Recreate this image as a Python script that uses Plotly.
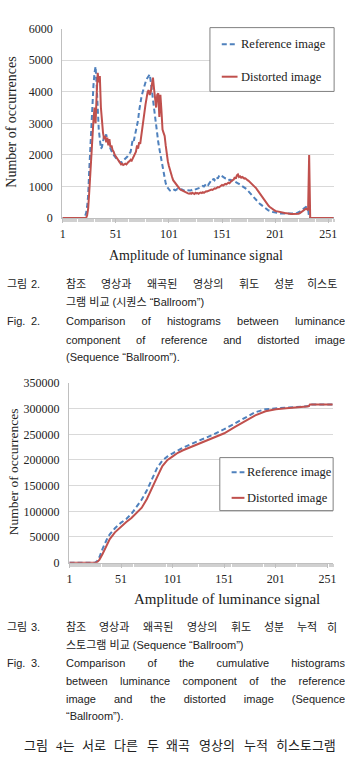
import plotly.graph_objects as go

# ---------------- data ----------------
x_vals = list(range(1, 257))

hist_ref = ([0] * 20 +
    [0, 50, 150, 350, 700, 1500, 2200, 3000, 3700, 4200,
     4600, 4800, 4200, 3400, 2800, 2500, 2200, 2250, 2400, 2600,
     2550, 2650, 2500, 2350, 2300, 2200, 2100, 2050, 2000, 1950,
     1900, 1850, 1820, 1800, 1780, 1750, 1780, 1800, 1850, 1880,
     1900, 1950, 2000, 2050, 2100, 2300, 2500, 2450, 2600, 2800,
     2900, 3100, 3400, 3700, 3800, 3950, 4100, 4200, 4300, 4400,
     4450, 4500, 4550, 4300, 4000, 3800, 3500, 3200, 2900, 2600,
     2400, 2200, 2000, 1800, 1600, 1400, 1250, 1100, 1000, 950,
     900, 870, 850, 860, 880, 900, 880, 900, 920, 900,
     880, 900, 910, 890, 870, 880, 900, 880, 870, 880,
     870, 880, 900, 880, 890, 900, 920, 940, 950, 960,
     980, 1000, 1020, 1000, 1050, 1080, 1100, 1050, 1100, 1150,
     1200, 1180, 1250, 1200, 1280, 1300, 1250, 1320, 1300, 1350,
     1330, 1300, 1280, 1260, 1250, 1220, 1230, 1200, 1210, 1180,
     1170, 1150, 1160, 1130, 1120, 1100, 1080, 1060, 1040, 1020,
     1000, 980, 950, 920, 880, 840, 800, 760, 720, 690,
     660, 620, 580, 540, 500, 470, 440, 410, 380, 360,
     330, 300, 280, 260, 240, 220, 210, 200, 190, 180,
     165, 160, 155, 150, 150, 145, 145, 140, 140, 135,
     135, 130, 130, 130, 125, 125, 130, 130, 135, 140,
     150, 160, 180, 200, 220, 250, 280, 300, 320, 350,
     330, 300] +
    [0] * 24)

hist_dist = ([0] * 23 +
    [80, 300, 800, 1500, 2200, 2700, 3100,
     3500, 3000, 3900, 4600, 4300, 4500, 3500, 3000, 2700, 2500,
     2600, 2400, 2550, 2300, 2500, 2250, 2300, 2150, 2100, 2000,
     1950, 1900, 1850, 1800, 1750, 1700, 1720, 1680, 1700, 1720,
     1700, 1750, 1780, 1800, 1850, 1820, 1900, 1950, 2000, 2100,
     2300, 2200, 2400, 2350, 2600, 2900, 3100, 3300, 3600, 3800,
     4000, 4050, 3900, 4000, 4200, 4450, 4100, 3700, 3500, 3900,
     3950, 3200, 3900, 3400, 2800, 2700, 2600, 2300, 2000, 1800,
     1650, 1500, 1400, 1300, 1200, 1150, 1100, 1050, 1000, 950,
     930, 900, 880, 870, 850, 830, 800, 790, 780, 770,
     790, 770, 800, 780, 760, 800, 780, 790, 770, 800,
     810, 790, 820, 800, 830, 850, 840, 860, 870, 880,
     900, 890, 920, 940, 930, 960, 980, 970, 1000, 1020,
     1050, 1030, 1060, 1080, 1070, 1100, 1120, 1100, 1150, 1180,
     1200, 1220, 1300, 1250, 1350, 1380, 1300, 1320, 1280, 1300,
     1280, 1250, 1260, 1220, 1200, 1180, 1150, 1120, 1080, 1050,
     1000, 980, 950, 900, 850, 800, 750, 700, 650, 600,
     550, 500, 450, 420, 380, 350, 320, 290, 270, 250,
     230, 220, 210, 200, 190, 180, 170, 170, 160, 160,
     150, 150, 140, 140, 140, 130, 130, 130, 120, 130,
     130, 120, 140, 150, 180, 200, 230, 260, 280, 300,
     280, 250, 2000] +
    [0] * 23)

cum_x = [1, 26, 28, 30, 33, 36, 38, 40, 45, 51, 56, 61, 66, 71, 76, 81, 86, 91, 96, 101,
         106, 111, 121, 131, 141, 151, 161, 171, 181, 191, 201, 211, 221, 231, 233, 234, 256]
cum_ref = [0, 0, 4000, 11000, 27000, 41000, 49000, 55000, 67000, 78000,
           85000, 95000, 108000, 123000, 141000, 162000, 185000, 199000, 207000, 213000,
           219000, 224000, 233000, 241000, 250000, 260000, 271000, 283000, 293000, 299000,
           301000, 302000, 303000, 304500, 305000, 308000, 308000]
cum_dist = [0, 0, 1500, 6000, 17000, 31000, 40000, 46000, 59000, 71000,
            79000, 87000, 97000, 107000, 124000, 144000, 167000, 188000, 200000, 207000,
            214000, 219000, 227000, 235000, 243000, 252000, 264000, 276000, 287000, 295000,
            299000, 301000, 302000, 304000, 305000, 308000, 308000]

x_ticks = [1, 51, 101, 151, 201, 251]
hist_y_ticks = [0, 1000, 2000, 3000, 4000, 5000, 6000]
cum_y_ticks = [0, 50000, 100000, 150000, 200000, 250000, 300000, 350000]

series_names = ["Reference image", "Distorted image"]

# ---------------- styling helpers ----------------
W, H = 345, 765
BLUE = "#4F81BD"
RED = "#C0504D"
GRID = "#D9D9D9"
AXC = "#BFBFBF"
TXT = "#222222"
SERIF = "Liberation Serif, Times New Roman, serif"
CAP = "Liberation Sans, Noto Sans CJK KR, sans-serif"
BODY = "Liberation Serif, Noto Sans CJK KR, serif"


def px(x):
    return x / W


def py(y):
    return 1 - y / H


# approximate advance widths (Arial / Times metrics, em/1000)
ARIAL = {' ': 278, '(': 333, ')': 333, '.': 278, '\u201c': 333, '\u201d': 333, ',': 278,
         'a': 556, 'b': 556, 'c': 500, 'd': 556, 'e': 556, 'f': 278, 'g': 556, 'h': 556,
         'i': 222, 'j': 222, 'k': 500, 'l': 222, 'm': 833, 'n': 556, 'o': 556, 'p': 556,
         'q': 556, 'r': 333, 's': 500, 't': 278, 'u': 556, 'v': 500, 'w': 722, 'x': 500,
         'y': 500, 'z': 500, 'B': 667, 'C': 722, 'F': 611, 'S': 667}
TIMES = {' ': 250, '4': 500}


def text_width(s, size, table):
    w = 0
    for ch in s:
        if ch in table:
            w += table[ch]
        elif ord(ch) >= 0x1100:
            w += 1000
        else:
            w += 556
    return w * size / 1000


fig = go.Figure()

line_ref = dict(color=BLUE, width=2, dash="5px,3px")
line_dist = dict(color=RED, width=2)

fig.add_trace(go.Scatter(x=x_vals, y=hist_ref, mode="lines", line=line_ref,
                         name=series_names[0], xaxis="x", yaxis="y", showlegend=False))
fig.add_trace(go.Scatter(x=x_vals, y=hist_dist, mode="lines", line=line_dist,
                         name=series_names[1], xaxis="x", yaxis="y", showlegend=False))
fig.add_trace(go.Scatter(x=cum_x, y=cum_ref, mode="lines", line=line_ref,
                         name=series_names[0], xaxis="x2", yaxis="y2", showlegend=False))
fig.add_trace(go.Scatter(x=cum_x, y=cum_dist, mode="lines", line=line_dist,
                         name=series_names[1], xaxis="x2", yaxis="y2", showlegend=False))


def xaxis_cfg(domain, anchor):
    return dict(domain=domain, anchor=anchor, range=[0.5, 256.5], tickmode="array",
                tickvals=x_ticks, ticktext=[str(v) for v in x_ticks],
                ticks="outside", ticklen=4, tickcolor=AXC, tickwidth=1,
                minor=dict(ticks="outside", tickmode="linear", tick0=0.5, dtick=1,
                           ticklen=3, tickcolor="#D0D0D0", showgrid=False),
                showgrid=False, zeroline=False, showline=True, linecolor=AXC,
                tickfont=dict(family=SERIF, size=12, color=TXT), ticklabelstandoff=1,
                fixedrange=True)


def yaxis_cfg(domain, anchor, rng, ticks, size):
    return dict(domain=domain, anchor=anchor, range=rng, tickmode="array",
                tickvals=ticks, ticktext=[str(v) for v in ticks],
                showgrid=True, gridcolor=GRID, gridwidth=1, zeroline=False,
                showline=True, linecolor=AXC, ticks="",
                tickfont=dict(family=SERIF, size=size, color=TXT), ticklabelstandoff=6,
                fixedrange=True)


fig.update_layout(
    width=W, height=H, margin=dict(l=0, r=0, t=0, b=0, pad=0),
    paper_bgcolor="white", plot_bgcolor="white", showlegend=False,
    xaxis=xaxis_cfg([px(61), px(337)], "y"),
    yaxis=yaxis_cfg([py(215), py(22)], "x", [0, 6000], hist_y_ticks, 12),
    xaxis2=xaxis_cfg([px(68), px(336)], "y2"),
    yaxis2=yaxis_cfg([py(566), py(383)], "x2", [0, 350000], cum_y_ticks, 12),
)

shapes = []
annotations = []


def add_text(x, y, text, size, family, anchor="left", angle=0):
    annotations.append(dict(x=px(x), y=py(y), xref="paper", yref="paper", text=text,
                            showarrow=False, xanchor=anchor, yanchor="middle",
                            textangle=angle, font=dict(family=family, size=size, color=TXT)))


def add_legend(box, y_rows, x_line, x_text, size):
    x0, x1, y0, y1 = box
    shapes.append(dict(type="rect", xref="paper", yref="paper", x0=px(x0), x1=px(x1),
                       y0=py(y1), y1=py(y0), line=dict(color="#808080", width=1),
                       fillcolor="white", layer="above"))
    styles = [line_ref, line_dist]
    for yy, st, name in zip(y_rows, styles, series_names):
        shapes.append(dict(type="line", xref="paper", yref="paper", x0=px(x_line[0]),
                           x1=px(x_line[1]), y0=py(yy), y1=py(yy),
                           line=dict(color=st["color"], width=2, dash=st.get("dash", "solid")),
                           layer="above"))
        add_text(x_text, yy, name, size, SERIF)


# legends
add_legend((211, 337, 21, 86), (38, 71), (223, 239), 240, 12.5)
add_legend((221, 336, 459, 513), (474, 500), (233, 246), 246.5, 12.5)

# axis titles
add_text(10, 117, "Number of occurrences", 14, SERIF, "center", -90)
add_text(197, 253, "Amplitude of luminance signal", 14, SERIF, "center")
add_text(12, 473, "Number of occurrences", 13.5, SERIF, "center", -90)
add_text(228, 603, "Amplitude of luminance signal", 15, SERIF, "center")


def justified(x0, x1, y, text, size, family, table):
    """English lines: stretch spaces with CSS word-spacing."""
    nat = text_width(text, size, table)
    n = text.count(' ')
    ws = (x1 - x0 - nat) / n if n else 0
    add_text(x0, y, '<span style="word-spacing:%.2fpx">%s</span>' % (ws, text), size, family)


def justified_words(x0, x1, y, text, size, family, table):
    """Korean lines: place each word; first left-anchored, last right-anchored."""
    words = text.split(' ')
    widths = [text_width(w, size, table) for w in words]
    gap = (x1 - x0 - sum(widths)) / (len(words) - 1)
    pos = x0
    for i, (w, wd) in enumerate(zip(words, widths)):
        if i == len(words) - 1:
            add_text(x1, y, w, size, family, "right")
        else:
            add_text(pos, y, w, size, family, "left")
        pos += wd + gap


CS = 11
# Fig. 2 caption
add_text(3, 282, "그림", CS, CAP)
add_text(27, 282, "2.", CS, CAP)
justified_words(63, 342, 282, "참조 영상과 왜곡된 영상의 휘도 성분 히스토", CS, CAP, ARIAL)
add_text(63, 301, "그램 비교 (시퀀스 \u201cBallroom\u201d)", CS, CAP)
add_text(3, 320, "Fig.", CS, CAP)
add_text(27, 320, "2.", CS, CAP)
justified(63, 342, 320, "Comparison of histograms between luminance", CS, CAP, ARIAL)
justified(63, 342, 339, "component of reference and distorted image", CS, CAP, ARIAL)
add_text(63, 357, "(Sequence \u201cBallroom\u201d).", CS, CAP)

# Fig. 3 caption
add_text(3, 632, "그림", CS, CAP)
add_text(27, 632, "3.", CS, CAP)
justified_words(63, 342, 632, "참조 영상과 왜곡된 영상의 휘도 성분 누적 히", CS, CAP, ARIAL)
add_text(63, 650, "스토그램 비교 (Sequence \u201cBallroom\u201d)", CS, CAP)
add_text(3, 668, "Fig.", CS, CAP)
add_text(27, 668, "3.", CS, CAP)
justified(63, 342, 668, "Comparison of the cumulative histograms", CS, CAP, ARIAL)
justified(63, 342, 687, "between luminance component of the reference", CS, CAP, ARIAL)
justified(63, 342, 705, "image and the distorted image (Sequence", CS, CAP, ARIAL)
add_text(63, 722, "\u201cBallroom\u201d).", CS, CAP)

# body text
justified_words(20, 341, 752, "그림 4는 서로 다른 두 왜곡 영상의 누적 히스토그램", 13, BODY, TIMES)

fig.update_layout(shapes=shapes, annotations=annotations)
fig.write_html("out.html")
